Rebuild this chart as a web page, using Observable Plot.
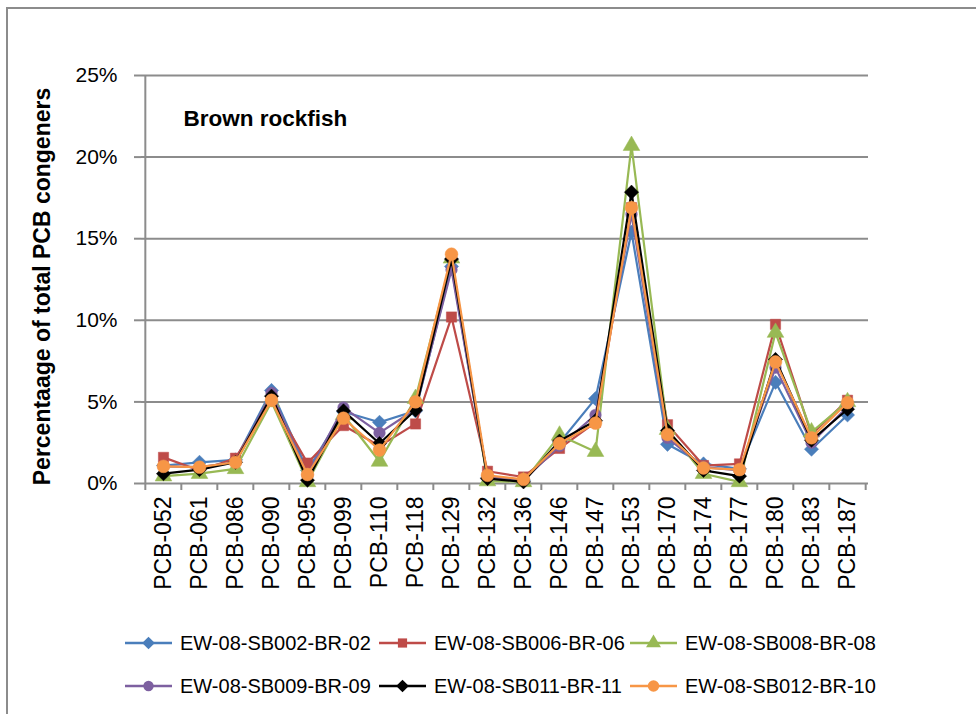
<!DOCTYPE html>
<html>
<head>
<meta charset="utf-8">
<script src="https://cdn.jsdelivr.net/npm/d3@7"></script>
<script src="https://cdn.jsdelivr.net/npm/@observablehq/plot@0.6"></script>
<style>
  html, body { margin: 0; padding: 0; background: #fff; }
  #wrap { position: relative; width: 976px; height: 714px; overflow: hidden; }
  #frame { position: absolute; left: 6px; top: 7px; width: 1000px; height: 800px;
           border-left: 2px solid #8c8c8c; border-top: 2px solid #8c8c8c; }
  #chart { position: absolute; left: 0; top: 0; }
  .legend-item { position: absolute; display: flex; align-items: center; height: 24px;
                 font-family: "Liberation Sans", Arial, sans-serif;
                 font-size: 20px; color: #000; white-space: nowrap; }
  .legend-item svg { margin-right: 8px; }
</style>
</head>
<body>
<div id="wrap">
  <div id="frame"></div>
  <div id="chart"></div>
</div>
<script>
// PCB congeners along the x axis
const congeners = ["PCB-052","PCB-061","PCB-086","PCB-090","PCB-095","PCB-099","PCB-110","PCB-118","PCB-129","PCB-132",
                   "PCB-136","PCB-146","PCB-147","PCB-153","PCB-170","PCB-174","PCB-177","PCB-180","PCB-183","PCB-187"];

// Sample names (legend order)
const samples = ["EW-08-SB002-BR-02","EW-08-SB006-BR-06","EW-08-SB008-BR-08",
                 "EW-08-SB009-BR-09","EW-08-SB011-BR-11","EW-08-SB012-BR-10"];

// Percentage of total PCB congeners, one array per sample
const sb002 = [1.1, 1.3, 1.45, 5.7, 0.8, 4.4, 3.75, 4.45, 13.3, 0.35, 0.2, 2.5, 5.2, 15.4, 2.4, 1.2, 0.9, 6.2, 2.1, 4.2];
const sb006 = [1.6, 0.8, 1.55, 5.1, 1.25, 3.55, 2.3, 3.65, 10.2, 0.75, 0.4, 2.15, 3.75, 16.9, 3.6, 1.1, 1.2, 9.75, 3.0, 5.1];
const sb008 = [0.45, 0.6, 0.9, 5.0, 0.1, 4.2, 1.35, 5.2, 13.8, 0.15, 0.1, 2.95, 1.95, 20.7, 3.3, 0.6, 0.1, 9.25, 3.15, 5.0];
const sb009 = [1.05, 1.0, 1.3, 5.55, 0.5, 4.65, 3.1, 4.55, 13.1, 0.4, 0.2, 2.3, 4.2, 16.5, 2.8, 1.0, 0.8, 7.1, 2.5, 4.7];
const sb011 = [0.6, 0.85, 1.3, 5.35, 0.2, 4.45, 2.45, 4.5, 13.75, 0.3, 0.1, 2.6, 3.85, 17.85, 3.25, 0.8, 0.45, 7.6, 2.65, 4.55];
const sb012 = [1.05, 1.0, 1.3, 5.1, 0.55, 4.0, 2.05, 5.0, 14.05, 0.5, 0.25, 2.45, 3.7, 16.9, 3.0, 0.95, 0.85, 7.45, 2.8, 4.95];

// Y axis ticks (percent)
const yTicks = [0, 5, 10, 15, 20, 25];

const seriesValues = [sb002, sb006, sb008, sb009, sb011, sb012];
const colors  = ["#4a7ebb", "#be4b48", "#98b954", "#7d60a0", "#000000", "#f79646"];
const symbols = ["diamond2", "square", "triangle", "circle", "diamond2", "circle"];
const radii   = [6.4, 5.8, 6.2, 5.8, 6.4, 6.4];

const W = 976, H = 714;
const mLeft = 141, mRight = 108, mTop = 75, mBottom = 231;
const step = (W - mLeft - mRight) / congeners.length;

const rows = seriesValues.map((vals, s) =>
  congeners.map((c, i) => ({congener: c, sample: samples[s], value: vals[i]})));

const seriesMarks = rows.flatMap((data, s) => [
  Plot.line(data, {x: "congener", y: "value", stroke: colors[s], strokeWidth: 2.2}),
  Plot.dot(data, {x: "congener", y: "value", symbol: () => symbols[s], r: radii[s],
                  fill: colors[s], stroke: colors[s], strokeWidth: 0.5})
]);

const chart = Plot.plot({
  width: W, height: H,
  marginLeft: mLeft, marginRight: mRight, marginTop: mTop, marginBottom: mBottom,
  style: {fontFamily: "'Liberation Sans', Arial, sans-serif", background: "transparent", overflow: "visible"},
  x: {type: "point", domain: congeners, padding: 0.5},
  y: {domain: [0, 25]},
  symbol: {type: "identity"},
  marks: [
    // horizontal gridlines
    Plot.ruleY(yTicks.slice(1), {stroke: "#8c8c8c", strokeWidth: 2}),
    // y axis with ticks and percent labels
    Plot.axisY({ticks: yTicks, tickFormat: d => d + "%", tickSize: 7, tickPadding: 17,
                fontSize: 21, stroke: "#8c8c8c", strokeWidth: 2, label: null, color: "#000"}),
    Plot.ruleX([congeners[0]], {dx: -step / 2, stroke: "#8c8c8c", strokeWidth: 2}),
    // x axis line and category boundary ticks
    Plot.ruleY([0], {stroke: "#8c8c8c", strokeWidth: 2}),
    Plot.ruleX(congeners, {x: d => d, dx: -step / 2, y1: 0, y2: -0.43, stroke: "#8c8c8c", strokeWidth: 2}),
    Plot.ruleX([congeners[congeners.length - 1]], {dx: step / 2, y1: 0, y2: -0.43, stroke: "#8c8c8c", strokeWidth: 2}),
    Plot.axisX({tickRotate: -90, tickSize: 0, tickPadding: 13, fontSize: 23, label: null, color: "#000"}),
    // axis title and chart title
    Plot.text(["Percentaage of total PCB congeners"], {frameAnchor: "left", dx: -99, dy: 7, rotate: -90,
              textAnchor: "middle", lineAnchor: "middle", fontSize: 23, fontWeight: "bold", fill: "#000"}),
    Plot.text(["Brown rockfish"], {frameAnchor: "top-left", dx: 42, dy: 43, textAnchor: "start",
              lineAnchor: "middle", fontSize: 22.5, fontWeight: "bold", fill: "#000"}),
    ...seriesMarks
  ]
});
document.getElementById("chart").appendChild(chart);

// Legend: two rows of three entries below the chart
const wrap = document.getElementById("wrap");
const legendX = [125, 379, 630];
const legendY = [643, 686];
const symMap = {diamond2: d3.symbolDiamond2, square: d3.symbolSquare, triangle: d3.symbolTriangle, circle: d3.symbolCircle};
samples.forEach((name, s) => {
  const item = document.createElement("div");
  item.className = "legend-item";
  item.style.left = legendX[s % 3] + "px";
  item.style.top = (legendY[Math.floor(s / 3)] - 12) + "px";
  const sw = d3.create("svg").attr("width", 47).attr("height", 24);
  sw.append("line").attr("x1", 0).attr("x2", 47).attr("y1", 12).attr("y2", 12)
    .attr("stroke", colors[s]).attr("stroke-width", 2.5);
  sw.append("path").attr("transform", "translate(23.5,12)")
    .attr("d", d3.symbol(symMap[symbols[s]], Math.PI * radii[s] * radii[s] * 0.8)())
    .attr("fill", colors[s]);
  item.appendChild(sw.node());
  const label = document.createElement("span");
  label.textContent = name;
  item.appendChild(label);
  wrap.appendChild(item);
});
</script>
</body>
</html>
